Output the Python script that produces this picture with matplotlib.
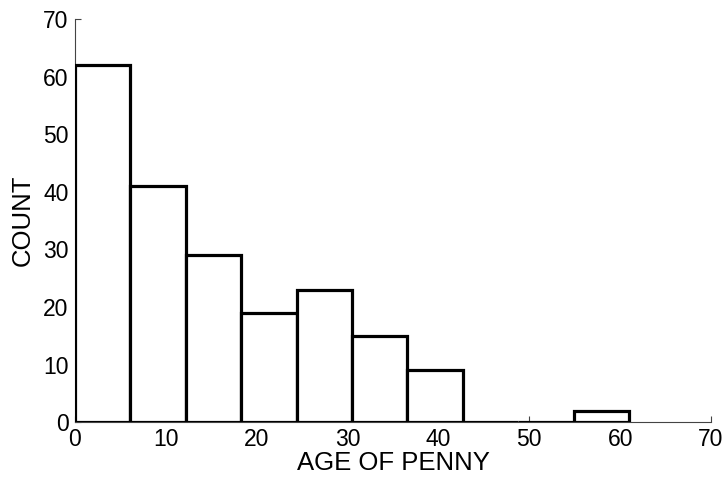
import numpy as np
import matplotlib
matplotlib.use("Agg")
import matplotlib.pyplot as plt

# histogram of penny ages, 10 equal bins from 0 to 61
bin_edges = np.linspace(0, 61, 11)
counts = [62, 41, 29, 19, 23, 15, 9, 0, 0, 2]
xticks = [0, 10, 20, 30, 40, 50, 60, 70]
yticks = [0, 10, 20, 30, 40, 50, 60, 70]

plt.rcParams['font.family'] = ['Liberation Sans', 'DejaVu Sans']

fig = plt.figure(figsize=(7.27, 4.78), dpi=100)
ax = fig.add_axes([0.103, 0.117, 0.875, 0.843])

# white-filled bars sit over the inward ticks, like the original
widths = np.diff(bin_edges)
ax.bar(bin_edges[:-1], counts, width=widths, align='edge', facecolor='white',
       edgecolor='black', linewidth=2.3, zorder=3)

ax.set_xlim(0, 70)
ax.set_ylim(0, 70)
ax.set_xticks(xticks)
ax.set_yticks(yticks)
ax.tick_params(direction='in', length=4, width=0.8, labelsize=16.5, color='#444444')
ax.tick_params(axis='y', pad=4.5)
ax.tick_params(axis='x', pad=4.5)

for side in ['top', 'right']:
    ax.spines[side].set_visible(False)
for side in ['left', 'bottom']:
    ax.spines[side].set_linewidth(0.8)
    ax.spines[side].set_color('#444444')

ax.set_xlabel('AGE OF PENNY', fontsize=18.5, labelpad=0)
ax.set_ylabel('COUNT', fontsize=18.5, labelpad=6)

fig.savefig('out.png', dpi=100)
